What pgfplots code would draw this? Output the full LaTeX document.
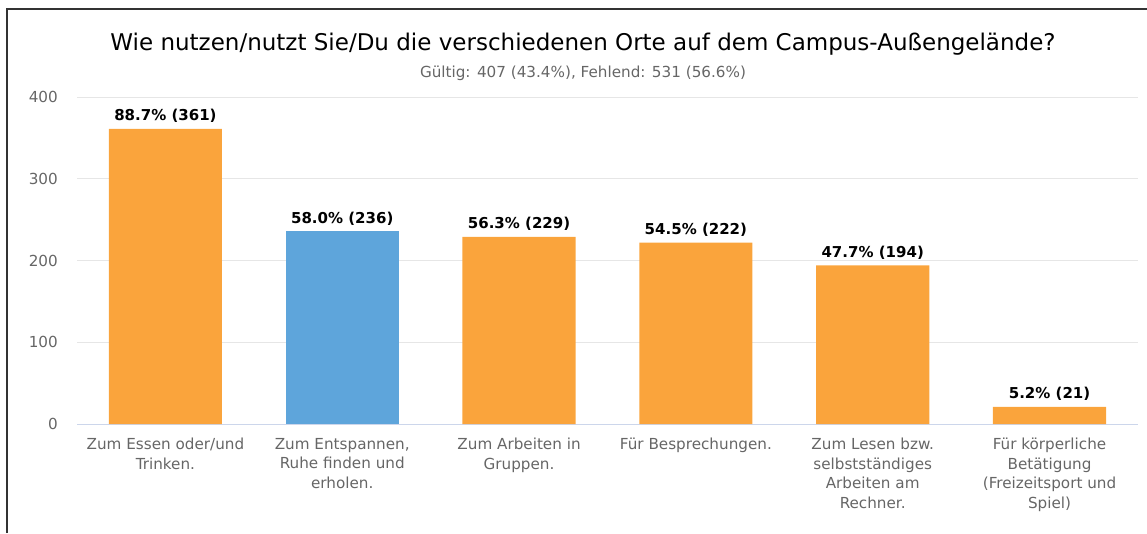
\documentclass[border=0pt]{standalone}
\usepackage{fontspec}
\setmainfont{DejaVu Sans}
\usepackage{pgfplots}
\pgfplotsset{compat=1.18}
\definecolor{barorange}{RGB}{250,164,60}
\definecolor{barblue}{RGB}{94,165,219}
\definecolor{gridgray}{RGB}{230,230,230}
\definecolor{axisblue}{RGB}{204,214,235}
\definecolor{textgray}{RGB}{102,102,102}
\begin{document}
\begin{tikzpicture}
\path[use as bounding box] (0pt,0pt) rectangle (1147pt,533pt);
\draw[black!80, line width=1.5pt] (7pt,0pt) -- (7pt,524pt) -- (1147pt,524pt);
\node[anchor=base, font=\fontsize{23}{27}\selectfont] at (583pt,482pt) {Wie nutzen/nutzt Sie/Du die verschiedenen Orte auf dem Campus-Außengelände?};
\node[anchor=base, font=\fontsize{15.2}{18}\selectfont, text=textgray] at (583pt,455pt) {Gültig: 407 (43.4\%), Fehlend: 531 (56.6\%)};
\begin{axis}[
  at={(77pt,109pt)}, anchor=south west, scale only axis,
  width=1061pt, height=327pt,
  xmin=-0.5, xmax=5.5, ymin=0, ymax=400,
  ytick={0,100,200,300,400},
  ymajorgrids, grid style={gridgray, line width=0.8pt},
  axis x line*=bottom, axis y line*=left,
  y axis line style={draw=none},
  x axis line style={axisblue, line width=1pt, -},
  major tick length=0pt,
  /pgf/number format/assume math mode=true,
  yticklabel style={font=\fontsize{15.2}{18}\selectfont, text=textgray, anchor=east, inner sep=0pt, xshift=-19pt},
  xtick={0,1,2,3,4,5},
  xticklabels={{Zum Essen oder/und\\Trinken.},{Zum Entspannen,\\Ruhe finden und\\erholen.},{Zum Arbeiten in\\Gruppen.},{Für Besprechungen.},{Zum Lesen bzw.\\selbstständiges\\Arbeiten am\\Rechner.},{Für körperliche\\Betätigung\\(Freizeitsport und\\Spiel)}},
  xticklabel style={font=\fontsize{15.2}{19.5}\selectfont, text=textgray, align=center, anchor=north, inner sep=0pt, yshift=-14pt},
  point meta=explicit symbolic,
  nodes near coords,
  nodes near coords style={font=\fontsize{15}{18}\selectfont\bfseries, text=black, anchor=base, yshift=8pt},
]
\addplot[ybar, bar width=0.64, bar shift=0pt, fill=barorange, draw=none] table[meta=lab] {
x y lab
0 361 {88.7\%\ (361)}
2 229 {56.3\%\ (229)}
3 222 {54.5\%\ (222)}
4 194 {47.7\%\ (194)}
5 21 {5.2\%\ (21)}
};
\addplot[ybar, bar width=0.64, bar shift=0pt, fill=barblue, draw=none] table[meta=lab] {
x y lab
1 236 {58.0\%\ (236)}
};
\end{axis}
\end{tikzpicture}
\end{document}
